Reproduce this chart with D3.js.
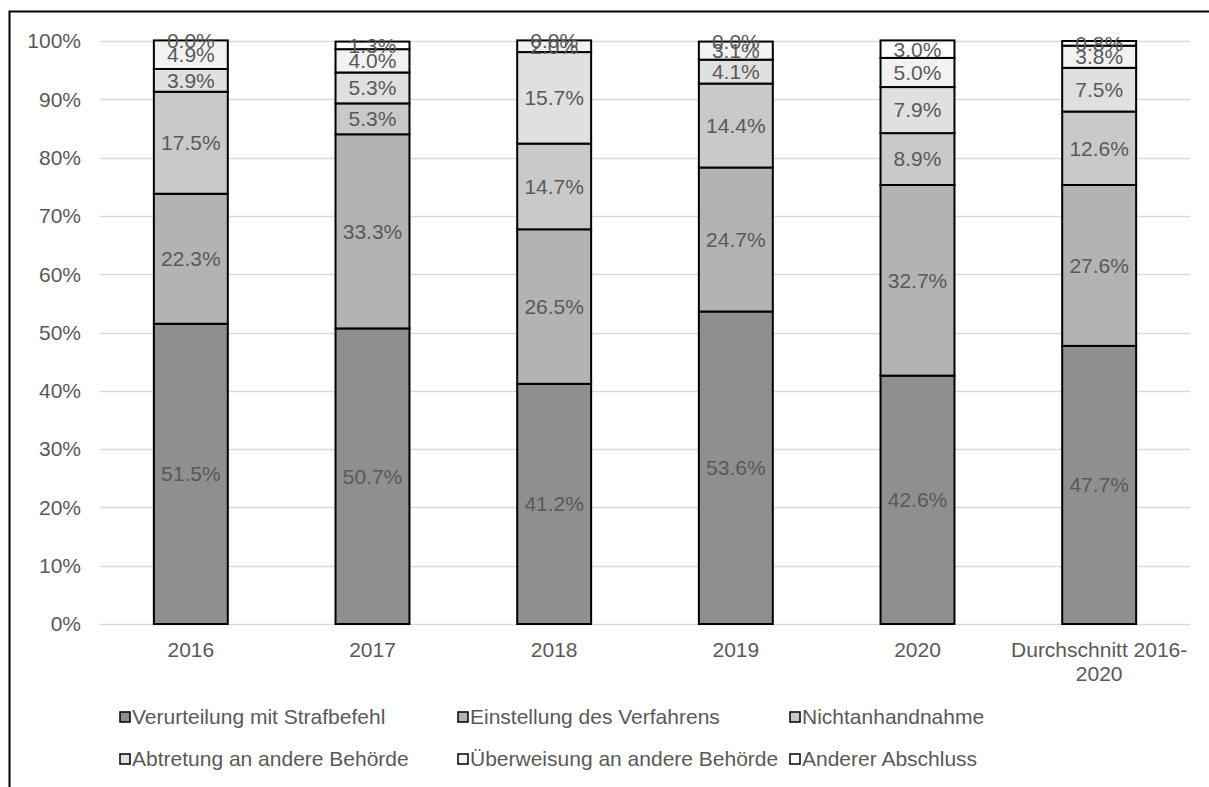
<!DOCTYPE html>
<html>
<head>
<meta charset="utf-8">
<script src="https://cdn.jsdelivr.net/npm/d3@7"></script>
<style>
  body { margin: 0; background: #fff; }
  svg { display: block; font-family: 'Liberation Sans', Arial, sans-serif; }
</style>
</head>
<body>
<div id="chartArea"></div>
<script>
// categories (x axis)
const years = ['2016', '2017', '2018', '2019', '2020', 'Durchschnitt 2016-2020']
// series, bottom to top
const seriesNames = [
  'Verurteilung mit Strafbefehl',
  'Einstellung des Verfahrens',
  'Nichtanhandnahme',
  'Abtretung an andere Behörde',
  'Überweisung an andere Behörde',
  'Anderer Abschluss'
]
const seriesColors = ['#8f8f8f', '#b3b3b3', '#c9c9c9', '#e0e0e0', '#f2f2f2', '#ffffff']
// shares in percent, one array per series in the order of years
const verurteilung = [51.5, 50.7, 41.2, 53.6, 42.6, 47.7]
const einstellung = [22.3, 33.3, 26.5, 24.7, 32.7, 27.6]
const nichtanhandnahme = [17.5, 5.3, 14.7, 14.4, 8.9, 12.6]
const abtretung = [3.9, 5.3, 15.7, 4.1, 7.9, 7.5]
const ueberweisung = [4.9, 4.0, 2.0, 3.1, 5.0, 3.8]
const andererAbschluss = [0.0, 1.3, 0.0, 0.0, 3.0, 0.8]
const yTicks = [0, 0.1, 0.2, 0.3, 0.4, 0.5, 0.6, 0.7, 0.8, 0.9, 1]

const allSeries = [verurteilung, einstellung, nichtanhandnahme, abtretung, ueberweisung, andererAbschluss]

const width = 1209
const height = 787
const textColor = '#595959'
const fontSize = 21

const svg = d3.select('#chartArea').append('svg')
  .attr('width', width)
  .attr('height', height)

// outer chart frame (cropped screenshot)
svg.append('path')
  .attr('d', `M9.5,${height} V11.5 H${width}`)
  .attr('fill', 'none')
  .attr('stroke', '#000')
  .attr('stroke-width', 2)

const xScale = d3.scaleBand()
  .domain(years)
  .range([100, 1190])
  .paddingInner(0.593)
  .paddingOuter(0.2965)

const yScale = d3.scaleLinear()
  .domain([0, 1])
  .range([624, 41])

// gridlines
svg.append('g')
  .selectAll('line')
  .data(yTicks)
  .join('line')
  .attr('x1', 100)
  .attr('x2', 1190)
  .attr('y1', d => Math.round(yScale(d)) + 0.5)
  .attr('y2', d => Math.round(yScale(d)) + 0.5)
  .attr('stroke', '#d9d9d9')
  .attr('stroke-width', 1.5)

// y axis labels
svg.append('g')
  .selectAll('text')
  .data(yTicks)
  .join('text')
  .attr('x', 81)
  .attr('y', d => yScale(d))
  .attr('dy', '0.35em')
  .attr('text-anchor', 'end')
  .attr('font-size', fontSize)
  .attr('fill', textColor)
  .text(d3.format('.0%'))

// stack the data
const rows = years.map((y, i) => {
  const r = { year: y }
  seriesNames.forEach((s, k) => { r[s] = allSeries[k][i] / 100 })
  return r
})
const stacked = d3.stack().keys(seriesNames)(rows)

const layers = svg.append('g')
  .selectAll('g')
  .data(stacked)
  .join('g')
  .attr('fill', (d, i) => seriesColors[i])

layers.selectAll('rect')
  .data(d => d)
  .join('rect')
  .attr('x', d => xScale(d.data.year))
  .attr('width', xScale.bandwidth())
  .attr('y', d => yScale(d[1]))
  .attr('height', d => yScale(d[0]) - yScale(d[1]))
  .attr('stroke', '#000')
  .attr('stroke-width', 2)

// value labels
layers.selectAll('text')
  .data(d => d)
  .join('text')
  .attr('x', d => xScale(d.data.year) + xScale.bandwidth() / 2)
  .attr('y', d => yScale((d[0] + d[1]) / 2))
  .attr('dy', '0.35em')
  .attr('text-anchor', 'middle')
  .attr('font-size', fontSize)
  .attr('fill', textColor)
  .text(d => d3.format('.1%')(d[1] - d[0]))

// x axis labels, wrapped like Excel
const xLab = svg.append('g')
  .selectAll('text')
  .data(years)
  .join('text')
  .attr('y', 650)
  .attr('text-anchor', 'middle')
  .attr('font-size', fontSize)
  .attr('fill', textColor)

xLab.each(function (d) {
  const lines = d.length > 10 ? ['Durchschnitt 2016-', '2020'] : [d]
  d3.select(this).selectAll('tspan')
    .data(lines)
    .join('tspan')
    .attr('x', xScale(d) + xScale.bandwidth() / 2)
    .attr('dy', (l, i) => i === 0 ? '0.35em' : 24)
    .text(l => l)
})

// legend
const legendCols = [120, 458, 790]
const legendRows = [717, 759]
const legend = svg.append('g')
  .selectAll('g')
  .data(seriesNames)
  .join('g')
  .attr('transform', (d, i) => `translate(${legendCols[i % 3]},${legendRows[Math.floor(i / 3)]})`)

legend.append('rect')
  .attr('x', 0)
  .attr('y', -5)
  .attr('width', 10)
  .attr('height', 10)
  .attr('fill', (d, i) => seriesColors[i])
  .attr('stroke', '#000')
  .attr('stroke-width', 1.5)

legend.append('text')
  .attr('x', 12)
  .attr('dy', '0.35em')
  .attr('font-size', fontSize)
  .attr('fill', textColor)
  .text(d => d)
</script>
</body>
</html>
